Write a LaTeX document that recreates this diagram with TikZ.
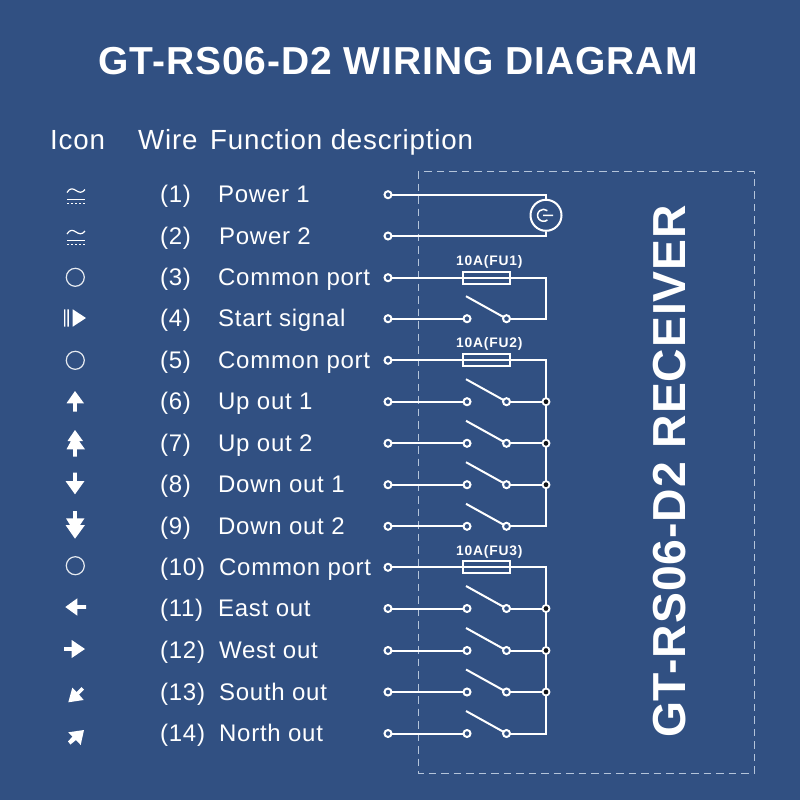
\documentclass[tikz,border=0pt]{standalone}
\usepackage{fontspec}
\setmainfont{Liberation Sans}
\newfontfamily\titlef[LetterSpace=2.4]{Liberation Sans Bold}
\newfontfamily\headf[LetterSpace=3]{Liberation Sans}
\newfontfamily\rowf[LetterSpace=3]{Liberation Sans}
\newfontfamily\vertf[LetterSpace=2]{Liberation Sans Bold}
\newfontfamily\fusef[LetterSpace=6]{Liberation Sans Bold}
\definecolor{bg}{HTML}{315082}
\definecolor{dashc}{HTML}{B4C4DA}
\definecolor{jdot}{HTML}{101318}
\tikzset{
  wire/.style={draw=white,line width=2pt},
  term/.style={circle,draw=white,line width=2pt,inner sep=0pt,minimum size=7pt,outer sep=0pt},
  junc/.style={circle,draw=white,fill=jdot,line width=1.8pt,inner sep=0pt,minimum size=7pt,outer sep=0pt},
  fuse/.style={rectangle,draw=white,line width=2pt,inner sep=0pt,minimum width=47pt,minimum height=12pt},
  gen/.style={circle,draw=white,line width=2pt,inner sep=0pt,minimum size=31pt},
  lab/.style={text=white,anchor=base west,inner sep=0pt,font={\rowf\fontsize{24}{24}\selectfont}},
  hd/.style={text=white,anchor=base west,inner sep=0pt,font={\headf\fontsize{27.7}{28}\selectfont}},
  fl/.style={text=white,inner sep=0pt,font={\fusef\fontsize{13.8}{14}\selectfont}},
  icon/.style={fill=white,draw=none},
  ring/.style={draw=white!88!bg,line width=1.2pt},
}
\begin{document}
\begin{tikzpicture}[x=1pt,y=-1pt]
\useasboundingbox (0,0) rectangle (800,800);
\fill[bg] (0,0) rectangle (800,800);
% receiver outline
\draw[dashc,line width=1pt,dash pattern=on 7.5pt off 5pt] (418,171) rectangle (754,773);
% texts
\node[text=white,inner sep=0pt,font={\titlef\fontsize{39}{40}\selectfont}] (title) at (398,61) {GT-RS06-D2 WIRING DIAGRAM};
\node[hd] (hicon) at (50,149) {Icon};
\node[hd] (hwire) at (138,149) {Wire};
\node[hd] (hfunc) at (210,149) {Function description};
\node[text=white,rotate=90,inner sep=0pt,font={\vertf\fontsize{46.3}{47}\selectfont}] (recv) at (670,471.5) {GT-RS06-D2 RECEIVER};
% rows
\foreach \i/\y/\t/\tx in {
 1/194.7/Power 1/218, 2/236/Power 2/219, 3/277.7/Common port/218, 4/318.7/Start signal/218,
 5/360.3/Common port/218, 6/401.7/Up out 1/218, 7/443.3/Up out 2/218, 8/484.7/Down out 1/218,
 9/526.3/Down out 2/218, 10/567.3/Common port/219, 11/608.5/East out/218, 12/650.5/West out/219,
 13/692/South out/219, 14/733.5/North out/219}{
  \node[lab] (num\i) at (160,\y+8) {(\i)};
  \node[lab] (txt\i) at (\tx,\y+8) {\t};
  \node[term] (t\i) at (388,\y) {};
  \coordinate (c\i) at (546,\y);
}
% switches
\foreach \i/\y in {4/318.7,6/401.7,7/443.3,8/484.7,9/526.3,11/608.5,12/650.5,13/692,14/733.5}{
  \node[term] (l\i) at (467,\y) {};
  \node[term] (r\i) at (506.5,\y) {};
  \coordinate (b\i) at (466,\y-22.5);
  \draw[wire] (t\i) -- (l\i);
  \draw[wire] (b\i) -- (r\i);
}
% junctions
\foreach \i in {6,7,8,11,12,13}{
  \node[junc] (j\i) at (c\i) {};
  \draw[wire] (r\i) -- (j\i);
}
% fuses
\foreach \i/\n/\d in {3/1/16,5/2/16,10/3/15.5}{
  \node[fuse] (f\i) at (486,0 |- c\i) {};
  \path (c\i) ++(-56.7,-\d) node[fl] (fl\i) {10A(FU\n)};
}
% power source
\node[gen] (g) at (546,215.3) {};
\draw[wire] (t1) -- (c1) -- (g.north);
\draw[wire] (t2) -- (c2) -- (g.south);
\draw[white,line width=1.5pt] (547.4,219.9) arc[start angle=50,end angle=310,radius=6] (543,215.3) -- (553,215.3);
% common feeds
\draw[wire,line join=miter] (t3) -- (c3) -- (c4) -- (r4);
\draw[wire] (t5) -- (c5) -- (j6);
\draw[wire] (j6) -- (j7);
\draw[wire] (j7) -- (j8);
\draw[wire,line join=miter] (j8) -- (c9) -- (r9);
\draw[wire] (t10) -- (c10) -- (j11);
\draw[wire] (j11) -- (j12);
\draw[wire] (j12) -- (j13);
\draw[wire,line join=miter] (j13) -- (c14) -- (r14);
% icons
\foreach \y in {0,41.5}{
  \draw[white,line width=1.2pt] (67,192.5+\y) .. controls (70,187.5+\y) and (73,188.5+\y) .. (76,190.5+\y) .. controls (79,192.5+\y) and (82,193.5+\y) .. (85,189.5+\y);
  \draw[white,line width=1pt] (67,199.3+\y) -- (85,199.3+\y);
  \draw[white,line width=1pt,dash pattern=on 2pt off 2pt] (67,203.3+\y) -- (85,203.3+\y);
}
\foreach \y in {277.3,360.3,565.7}{\draw[ring] (75.3,\y) circle[radius=9];}
\fill[icon] (64,309.3) rectangle (65.4,326.7) (67.4,309.3) rectangle (68.8,326.7);
\fill[icon] (72.7,309.3) -- (86,318) -- (72.7,326.7) -- cycle;
\fill[icon] (75,391) -- (84,403.3) -- (76.9,403.3) -- (76.9,411.7) -- (73.1,411.7) -- (73.1,403.3) -- (66.5,403.3) -- cycle;
\fill[icon] (75,430) -- (83,441) -- (79,441) -- (85,449.3) -- (76.9,449.3) -- (76.9,456.7) -- (73.1,456.7) -- (73.1,449.3) -- (66.5,449.3) -- (71,441) -- (67.5,441) -- cycle;
\fill[icon] (73.1,472.7) -- (76.9,472.7) -- (76.9,481) -- (84.5,481) -- (75,494.3) -- (65.5,481) -- (73.1,481) -- cycle;
\fill[icon] (73.1,511) -- (76.9,511) -- (76.9,518.3) -- (84.5,518.3) -- (80,525) -- (85,525) -- (75,538.7) -- (65.5,525) -- (70,525) -- (66,518.3) -- (73.1,518.3) -- cycle;
\fill[icon] (65.3,607) -- (77.3,598.3) -- (77.3,605.1) -- (86,605.1) -- (86,608.9) -- (77.3,608.9) -- (77.3,615.7) -- cycle;
\fill[icon] (85,649) -- (71.7,658) -- (71.7,650.9) -- (64,650.9) -- (64,647.1) -- (71.7,647.1) -- (71.7,640) -- cycle;
\fill[icon] (68.3,702.3) -- (72.3,687.7) -- (76.5,692) -- (81.5,687) -- (84,689.5) -- (79,694.5) -- (83.7,700) -- cycle;
\fill[icon] (84,730) -- (68.3,732.3) -- (72.5,736.5) -- (68,741.5) -- (70.5,744.5) -- (76,740) -- (80.7,745) -- cycle;
\end{tikzpicture}
\end{document}
